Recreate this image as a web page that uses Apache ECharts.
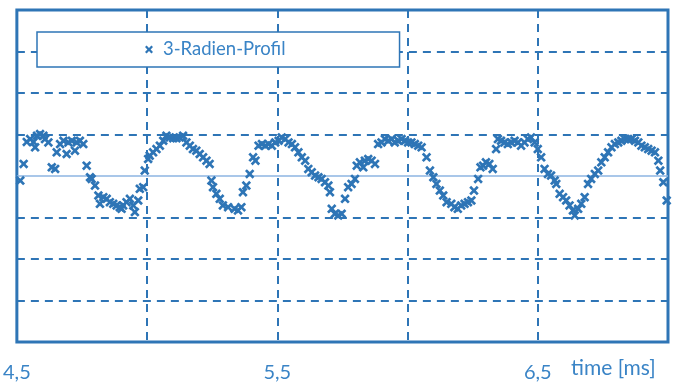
<!DOCTYPE html>
<html>
<head>
<meta charset="utf-8">
<script src="https://cdn.jsdelivr.net/npm/echarts@6/dist/echarts.min.js"></script>
<style>
  html, body { margin: 0; padding: 0; background: #fff; }
  #chart { width: 678px; height: 383px; }
</style>
</head>
<body>
<div id="chart"></div>
<script>
// Measured radius deviation of the 3-radius profile over time
const seriesName = '3-Radien-Profil';

const timeMs = [
  4.513,4.526,4.538,4.551,4.564,4.570,4.577,4.589,4.602,4.608,4.621,4.634,4.647,4.653,4.666,4.679,4.691,4.698,4.711,4.723,
  4.730,4.742,4.755,4.768,4.781,4.787,4.800,4.813,4.819,4.832,4.845,4.857,4.870,4.883,4.895,4.902,4.908,4.921,4.934,4.947,
  4.953,4.966,4.972,4.985,4.991,
  5.004,5.010,5.023,5.036,5.049,5.062,5.074,5.087,5.100,5.113,5.125,5.138,5.151,5.164,5.176,5.189,5.202,5.215,5.228,5.240,
  5.247,5.253,5.266,5.279,5.291,5.311,
  5.336,5.349,5.362,5.368,5.381,5.394,5.407,5.416,5.428,5.441,5.454,5.466,5.479,5.492,5.505,5.517,5.530,5.543,5.556,5.568,
  5.581,5.594,5.607,5.619,5.632,5.645,5.658,5.670,5.683,5.696,5.702,5.709,5.721,5.734,5.747,5.760,5.772,5.785,5.798,5.805,
  5.817,5.830,5.836,5.849,5.862,5.875,5.887,5.900,5.913,5.926,5.939,5.951,5.964,5.977,5.990,6.002,6.015,6.028,6.041,6.054,
  6.073,6.086,6.099,6.111,6.124,6.137,6.150,
  6.168,6.180,6.193,6.206,6.219,6.232,6.245,6.255,6.271,6.280,6.290,6.301,6.314,6.327,6.340,6.347,6.359,6.372,6.385,6.398,
  6.411,6.424,6.436,6.449,6.462,6.474,6.488,6.500,6.513,6.526,6.539,6.551,6.565,6.571,6.584,6.597,6.609,6.622,6.635,6.642,
  6.655,6.667,6.680,6.693,6.705,6.719,6.732,6.744,6.757,6.770,6.783,6.796,6.809,6.821,6.834,6.847,6.860,6.873,6.886,6.898,
  6.911,6.924,6.937,6.950,6.963,6.970,6.982,6.995
];

const radiusDev = [
  -0.11,0.29,0.82,0.89,0.82,0.69,0.97,1.01,0.97,0.89,0.81,0.21,0.17,0.57,0.77,0.85,0.53,0.81,0.85,0.61,
  0.81,0.85,0.77,0.25,-0.03,-0.07,-0.23,-0.47,-0.67,-0.51,-0.55,-0.63,-0.67,-0.71,-0.75,-0.79,-0.71,-0.63,-0.55,-0.71,
  -0.87,-0.59,-0.31,-0.27,0.13,
  0.41,0.49,0.57,0.65,0.73,0.85,0.97,0.93,0.91,0.91,0.93,0.97,0.81,0.73,0.65,0.61,0.53,0.45,0.37,0.29,
  -0.11,-0.27,-0.43,-0.55,-0.71,-0.75,
  -0.79,-0.83,-0.75,-0.39,-0.23,0.05,0.45,0.37,0.73,0.77,0.73,0.77,0.73,0.81,0.85,0.93,0.89,0.81,0.77,0.69,
  0.57,0.45,0.37,0.17,0.09,0.01,-0.03,-0.07,-0.15,-0.23,-0.39,-0.79,-0.91,-0.95,-0.91,-0.55,-0.27,-0.19,-0.07,0.25,
  0.33,0.21,0.37,0.41,0.37,0.29,0.77,0.81,0.89,0.85,0.89,0.81,0.85,0.89,0.85,0.81,0.81,0.77,0.73,0.69,
  0.45,0.13,-0.03,-0.19,-0.35,-0.47,-0.63,
  -0.67,-0.75,-0.79,-0.71,-0.67,-0.63,-0.59,-0.35,-0.07,0.21,0.25,0.33,0.29,0.17,0.65,0.89,0.85,0.81,0.77,0.81,
  0.85,0.81,0.73,0.81,0.89,0.93,0.81,0.65,0.45,0.17,0.05,0.01,-0.11,-0.19,-0.43,-0.51,-0.59,-0.71,-0.83,-0.95,
  -0.79,-0.67,-0.51,-0.19,-0.07,0.05,0.13,0.33,0.45,0.57,0.69,0.77,0.81,0.85,0.89,0.89,0.89,0.85,0.81,0.73,
  0.69,0.65,0.61,0.57,0.37,0.13,-0.15,-0.59
];

// Horizontal reference levels: dashed grid and the solid zero line
const dashedLevels = [-3, -2, -1, 1, 2, 3];
const zeroLevel = 0;
// Time ticks that carry a label
const labelledTicks = [4.5, 5.5, 6.5];

const BLUE = '#2E75B6';
const LABEL_BLUE = '#3A84C6';
const FONT = 'Lato, "Noto Sans", sans-serif';
// Bold "x" marker
const CROSS = 'path://M0,2 L2,0 L5,3 L8,0 L10,2 L7,5 L10,8 L8,10 L5,7 L2,10 L0,8 L3,5 Z';

const points = timeMs.map((t, i) => [t, radiusDev[i]]);

const chart = echarts.init(document.getElementById('chart'), null, { renderer: 'canvas' });

chart.setOption({
  animation: false,
  backgroundColor: '#fff',
  grid: {
    left: 15, right: 10, top: 10, bottom: 40,
    show: true,
    borderColor: BLUE,
    borderWidth: 3,
    backgroundColor: 'transparent'
  },
  legend: {
    left: 37, top: 32,
    data: [{ name: seriesName, icon: CROSS }],
    itemWidth: 8, itemHeight: 8,
    padding: [8, 114, 8, 108],
    backgroundColor: '#fff',
    borderColor: BLUE,
    borderWidth: 1.5,
    borderRadius: 0,
    textStyle: { color: LABEL_BLUE, fontSize: 18.5, fontFamily: FONT, padding: [0, 0, 0, 5] }
  },
  xAxis: {
    type: 'value',
    min: 4.5, max: 7.0, interval: 0.5,
    axisLine: { show: false },
    axisTick: { show: false },
    axisLabel: {
      margin: 21,
      color: LABEL_BLUE,
      fontSize: 20,
      fontFamily: FONT,
      formatter: v => {
        const hit = labelledTicks.find(t => Math.abs(t - v) < 1e-6);
        return hit === undefined ? '' : hit.toFixed(1).replace('.', ',');
      }
    },
    splitLine: {
      show: true,
      lineStyle: { color: BLUE, width: 2, type: [8, 6] }
    }
  },
  yAxis: {
    type: 'value',
    min: -4, max: 4, interval: 1,
    axisLine: { show: false },
    axisTick: { show: false },
    axisLabel: { show: false },
    splitLine: { show: false }
  },
  graphic: [{
    type: 'text',
    left: 571, top: 358,
    style: { text: 'time [ms]', fill: LABEL_BLUE, font: '21px ' + FONT }
  }],
  series: [{
    name: seriesName,
    type: 'scatter',
    data: points,
    symbol: CROSS,
    symbolSize: 9.5,
    itemStyle: { color: BLUE, opacity: 1 },
    z: 3,
    markLine: {
      silent: true,
      symbol: 'none',
      label: { show: false },
      z: 1,
      data: dashedLevels.map(v => ({ yAxis: v, lineStyle: { color: BLUE, width: 2, type: [8, 6] } }))
        .concat([{ yAxis: zeroLevel, lineStyle: { color: '#8DB4E2', width: 1.5, type: 'solid' } }])
    }
  }]
});
</script>
</body>
</html>
